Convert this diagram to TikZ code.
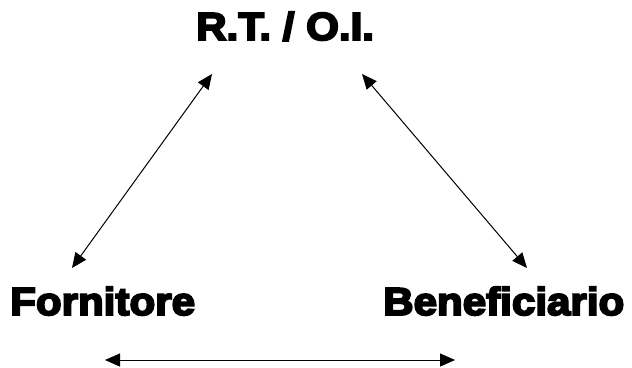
\documentclass[tikz,border=0pt]{standalone}
\usepackage{fontspec}
\newfontfamily\heavyfont{Liberation Sans}[FakeBold=5,FakeStretch=1.08]
\usetikzlibrary{arrows.meta}

\begin{document}
\begin{tikzpicture}[x=1pt,y=-1pt,
	    party/.style= {
	        inner sep=0pt,
	        anchor=base west,
	        font=\heavyfont\bfseries\fontsize{39}{44}\selectfont},
	    link/.style= {
	        line width=1pt,
	        {Triangle[length=15pt,width=13pt]}-{Triangle[length=15pt,width=13pt]}}]

		\useasboundingbox (0,0) rectangle (632,367);

		% Parties
		\node [party] (rt) at (196,40) {R.T. / O.I.};
		\node [party] (forn) at (10,315) {Fornitore};
		\node [party] (ben) at (383,315) {Beneficiario};

		% Arrows
		\draw[link] ([xshift=16pt,yshift=-34pt]rt.base west) -- ([xshift=62pt,yshift=47pt]forn.base west);
		\draw[link] ([xshift=166pt,yshift=-34pt]rt.base west) -- ([xshift=144pt,yshift=47pt]ben.base west);
		\draw[link] ([xshift=95pt,yshift=-45pt]forn.base west) -- ([xshift=72pt,yshift=-45pt]ben.base west);

	\end{tikzpicture}
\end{document}
